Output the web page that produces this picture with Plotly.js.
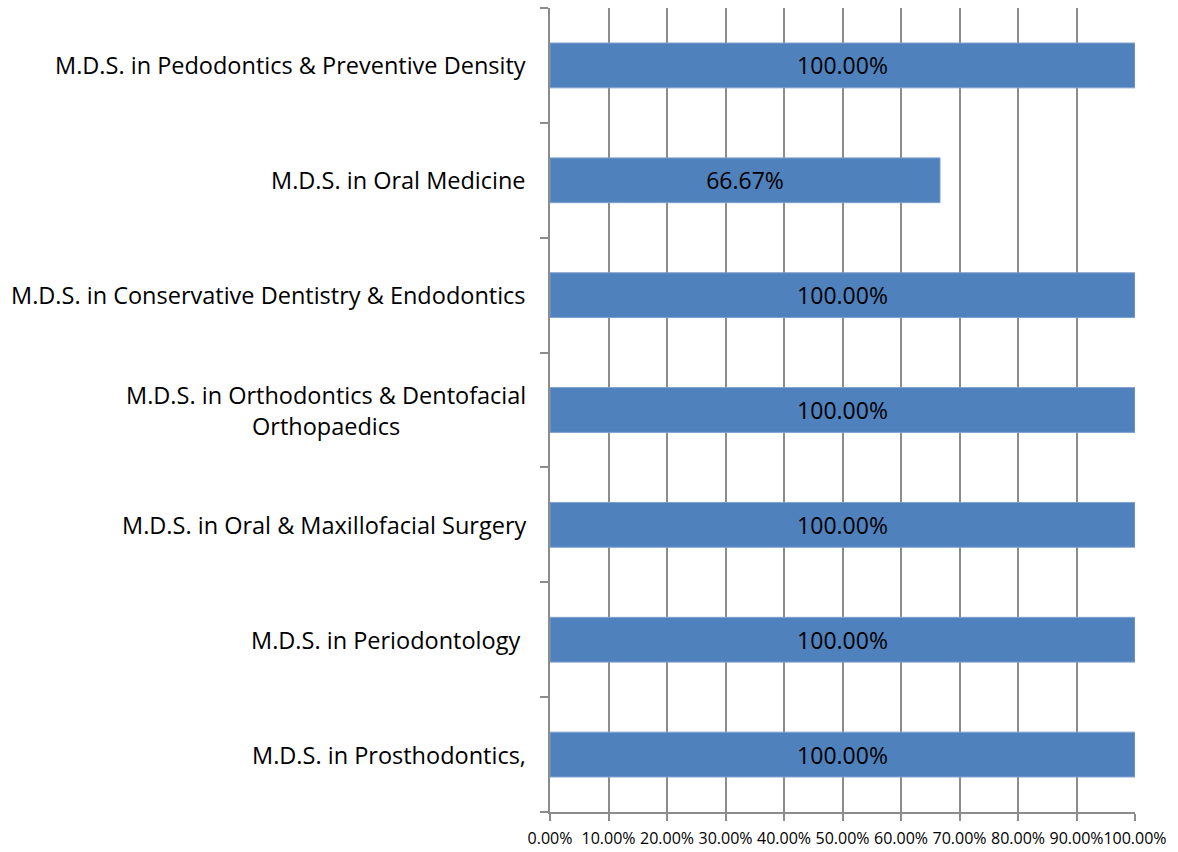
<!DOCTYPE html>
<html>
<head>
<meta charset="utf-8">
<script src="https://cdn.plot.ly/plotly-3.0.1.min.js"></script>
<style>html,body{margin:0;padding:0;background:#fff;}#chart{width:1178px;height:852px;}</style>
</head>
<body>
<div id="chart"></div>
<script>
// Categories listed bottom to top
var categories = [
  "M.D.S. in Prosthodontics,",
  "M.D.S. in Periodontology ",
  "M.D.S. in Oral & Maxillofacial Surgery",
  "M.D.S. in Orthodontics & Dentofacial<br>Orthopaedics",
  "M.D.S. in Conservative Dentistry & Endodontics",
  "M.D.S. in Oral Medicine",
  "M.D.S. in Pedodontics & Preventive Density"
];
var values = [1.0, 1.0, 1.0, 1.0, 1.0, 0.6667, 1.0];
var valueLabels = ["100.00%", "100.00%", "100.00%", "100.00%", "100.00%", "66.67%", "100.00%"];
var xTickVals = [0, 0.1, 0.2, 0.3, 0.4, 0.5, 0.6, 0.7, 0.8, 0.9, 1.0];

var FONT = "'Open Sans', sans-serif";

var trace = {
  type: "bar",
  orientation: "h",
  y: categories,
  x: values,
  text: valueLabels,
  textposition: "inside",
  insidetextanchor: "middle",
  textangle: 0,
  constraintext: "none",
  textfont: {family: FONT, size: 23, color: "#000"},
  marker: {color: "#4F81BD", line: {color: "#7FA1CD", width: 1}},
  hoverinfo: "skip"
};

var annotations = categories.map(function(c){
  return {
    xref: "paper", yref: "y",
    x: 0, y: c,
    xanchor: "right", yanchor: "middle",
    xshift: -22,
    text: c,
    align: "center",
    showarrow: false,
    font: {family: FONT, size: 23.5, color: "#000"}
  };
});

var layout = {
  width: 1178, height: 852,
  margin: {l: 550, r: 43, t: 8, b: 40, pad: 0},
  paper_bgcolor: "#fff",
  plot_bgcolor: "#fff",
  showlegend: false,
  bargap: 0.61,
  xaxis: {
    range: [0, 1],
    tickvals: xTickVals,
    tickformat: ".2%",
    tickangle: 0,
    showgrid: true,
    gridcolor: "#8C8C8C",
    gridwidth: 2,
    zeroline: false,
    showline: true,
    linecolor: "#8C8C8C",
    linewidth: 2,
    ticks: "outside",
    ticklen: 7,
    tickwidth: 2,
    tickcolor: "#8C8C8C",
    ticklabelstandoff: 4,
    tickfont: {family: FONT, size: 16, color: "#000"},
    fixedrange: true
  },
  yaxis: {
    type: "category",
    categoryorder: "array",
    categoryarray: categories,
    showticklabels: false,
    tickson: "boundaries",
    ticks: "outside",
    ticklen: 8,
    tickwidth: 2,
    tickcolor: "#8C8C8C",
    showgrid: false,
    showline: true,
    linecolor: "#8C8C8C",
    linewidth: 2,
    zeroline: false,
    fixedrange: true
  },
  annotations: annotations
};

Plotly.newPlot("chart", [trace], layout, {displayModeBar: false, staticPlot: true});
</script>
</body>
</html>
